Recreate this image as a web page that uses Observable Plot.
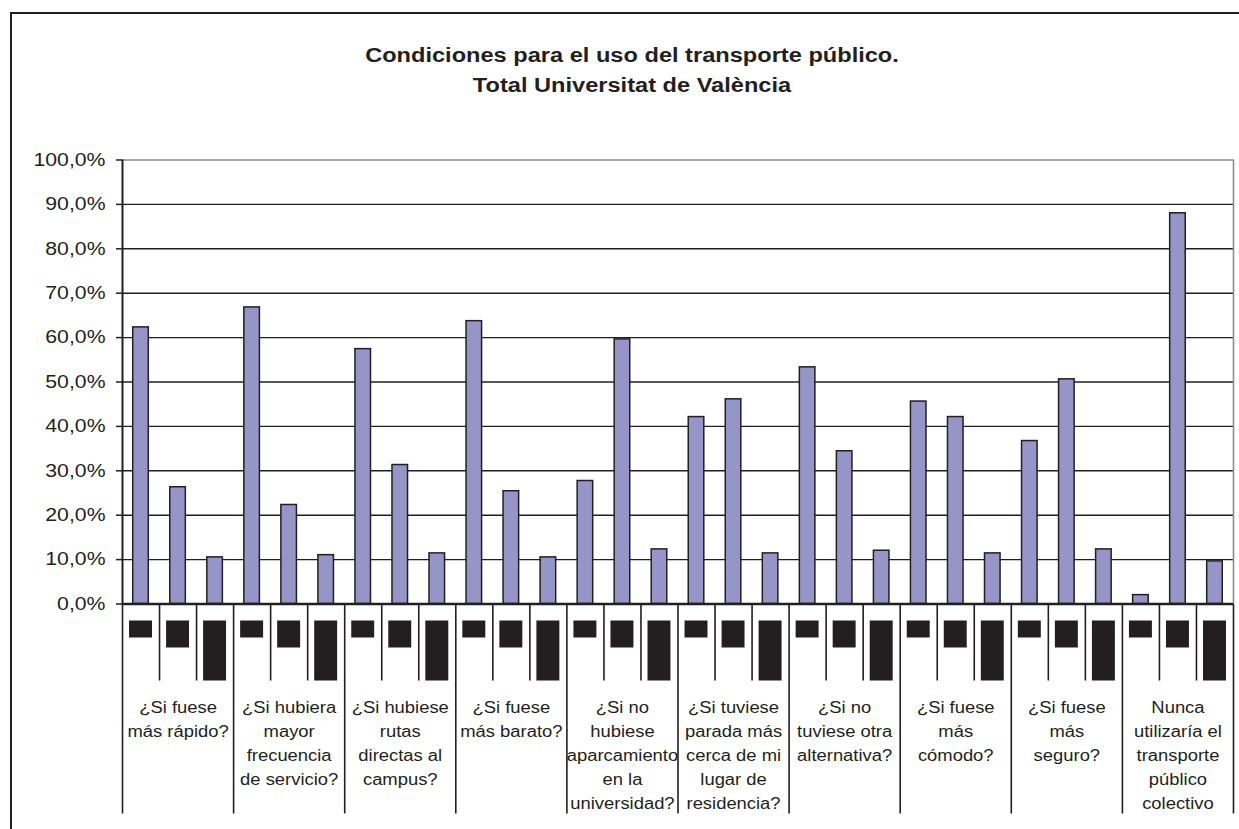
<!DOCTYPE html>
<html><head><meta charset="utf-8">
<script src="https://cdn.jsdelivr.net/npm/d3@7"></script>
<script src="https://cdn.jsdelivr.net/npm/@observablehq/plot@0.6"></script>
<style>
html,body{margin:0;padding:0;background:#fff;overflow:hidden;width:1239px;height:829px;}
#chart{position:absolute;left:0;top:0;}
#frame{position:absolute;left:10px;top:12px;width:1244px;height:900px;border:2px solid #231f20;box-sizing:border-box;}
#title{position:absolute;left:10px;width:1244px;top:40px;text-align:center;font:bold 20px "Liberation Sans",Arial,sans-serif;color:#231f20;line-height:30px;transform:scaleX(1.18);transform-origin:center;}
</style></head><body>
<div id="chart"></div>
<div id="frame"></div>
<div id="title">Condiciones para el uso del transporte público.<br>Total Universitat de València</div>
<script>
// ---- data ----
const categories = [
  "¿Si fuese\nmás rápido?",
  "¿Si hubiera\nmayor\nfrecuencia\nde servicio?",
  "¿Si hubiese\nrutas\ndirectas al\ncampus?",
  "¿Si fuese\nmás barato?",
  "¿Si no\nhubiese\naparcamiento\nen la\nuniversidad?",
  "¿Si tuviese\nparada más\ncerca de mi\nlugar de\nresidencia?",
  "¿Si no\ntuviese otra\nalternativa?",
  "¿Si fuese\nmás\ncómodo?",
  "¿Si fuese\nmás\nseguro?",
  "Nunca\nutilizaría el\ntransporte\npúblico\ncolectivo"
];
const serie1 = [62.3, 66.8, 57.4, 63.7, 27.7, 42.1, 53.3, 45.6, 36.7, 2.0];
const serie2 = [26.3, 22.3, 31.3, 25.4, 59.6, 46.1, 34.4, 42.1, 50.6, 88.0];
const serie3 = [10.5, 11.0, 11.4, 10.5, 12.3, 11.4, 12.0, 11.4, 12.3, 9.6];
const yTicks = [0, 10, 20, 30, 40, 50, 60, 70, 80, 90, 100];

// ---- layout / style ----
const W = 1239, H = 829;
const mTop = 159.5, mBottom = 225.5, mLeft = 122, mRight = 6;
const pxPerUnit = (H - mBottom - mTop) / 100;
const boxTopPx = 17, boxDepthPx = [17, 27, 60];
const SX = 1.18; // horizontal stretch of the reference text

const series = [serie1, serie2, serie3];
const nSer = series.length;
const rows = categories.flatMap((c, ci) => series.map((s, si) => ({slot: ci * nSer + si, cat: ci, ser: si, value: s[ci]})));
const nSlots = categories.length * nSer;
const subBounds = d3.range(1, nSlots).filter(i => i % nSer !== 0);
const catBounds = d3.range(0, nSlots + 1, nSer);
const catCenters = categories.map((c, i) => i * nSer + nSer / 2);

const ink = "#231f20";
const chart = Plot.plot({
  width: W, height: H,
  marginTop: mTop, marginBottom: mBottom, marginLeft: mLeft, marginRight: mRight,
  style: {fontFamily: "'Liberation Sans', Arial, sans-serif", color: ink, background: "transparent", overflow: "visible"},
  x: {type: "linear", domain: [0, nSlots], label: null},
  y: {domain: [0, 100], label: null},
  marks: [
    Plot.gridY(yTicks.filter(t => t > 0 && t < 100), {stroke: ink, strokeOpacity: 1, strokeWidth: 1.4}),
    Plot.ruleY([100], {stroke: "#8c8c8c", strokeWidth: 1.6}),
    Plot.ruleX([nSlots], {y1: 0, y2: 100, stroke: "#8c8c8c", strokeWidth: 1.6}),
    Plot.rect(rows, {
      x1: d => d.slot + 0.29, x2: d => d.slot + 0.71, y1: 0, y2: "value",
      fill: "#9595c8", stroke: ink, strokeWidth: 1.5
    }),
    Plot.rect(rows, {
      x1: d => d.slot + 0.19, x2: d => d.slot + 0.81,
      y1: -boxTopPx / pxPerUnit, y2: d => -(boxTopPx + boxDepthPx[d.ser]) / pxPerUnit,
      fill: ink
    }),
    Plot.axisY({ticks: yTicks, tickSize: 6, tickPadding: 11, fontSize: 18, stroke: ink, strokeWidth: 1.5,
      tickFormat: d => d.toFixed(1).replace(".", ",") + "%"}),
    Plot.ruleX([0], {y1: 0, y2: 100, stroke: ink, strokeWidth: 2}),
    Plot.axisX({ticks: subBounds, tickSize: 77, tickFormat: () => "", stroke: ink, strokeWidth: 1.6}),
    Plot.axisX({ticks: catBounds, tickSize: 210, tickFormat: () => "", stroke: ink, strokeWidth: 1.6}),
    Plot.axisX({ticks: catCenters, tickSize: 0, tickPadding: 92, fontSize: 15.6, lineHeight: 24 / 15.6,
      tickFormat: d => categories[Math.round((d - nSer / 2) / nSer)]}),
    Plot.ruleY([0], {stroke: ink, strokeWidth: 2.5})
  ]
});
chart.querySelectorAll("text").forEach(t => {
  const tr = t.getAttribute("transform");
  if (tr) t.setAttribute("transform", tr + ` scale(${SX},1)`);
});
document.getElementById("chart").appendChild(chart);
</script></body></html>
